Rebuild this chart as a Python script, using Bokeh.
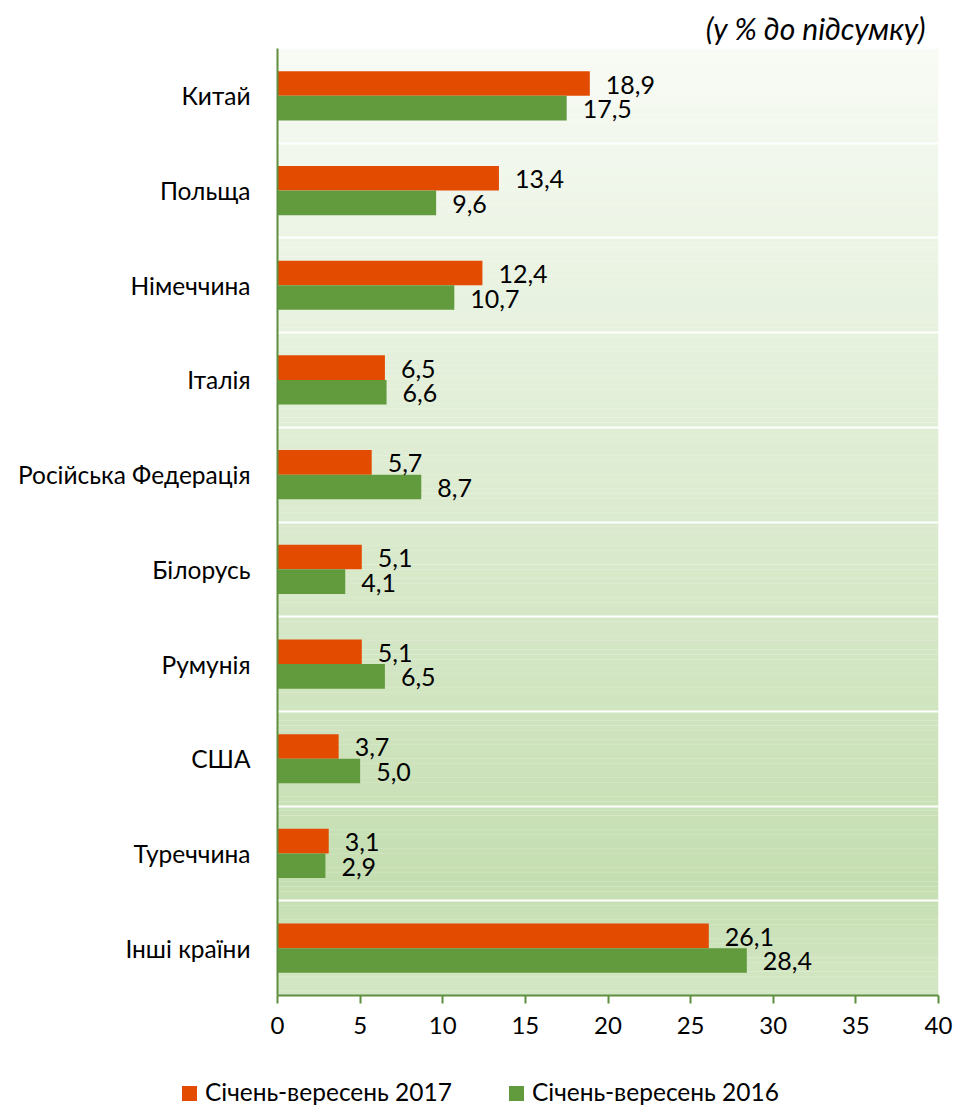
from bokeh.plotting import figure
from bokeh.models import FactorRange, Range1d, FixedTicker, ColumnDataSource, Title, Div
from bokeh.core.properties import value
from bokeh.transform import dodge
from bokeh.layouts import column
from bokeh.embed import file_html
from bokeh.resources import INLINE

categories = ["Китай", "Польща", "Німеччина", "Італія", "Російська Федерація",
              "Білорусь", "Румунія", "США", "Туреччина", "Інші країни"]
v2017 = [18.9, 13.4, 12.4, 6.5, 5.7, 5.1, 5.1, 3.7, 3.1, 26.1]
v2016 = [17.5, 9.6, 10.7, 6.6, 8.7, 4.1, 6.5, 5.0, 2.9, 28.4]
series_names = ["Січень-вересень 2017", "Січень-вересень 2016"]
x_ticks = [0, 5, 10, 15, 20, 25, 30, 35, 40]
title_text = "(у % до підсумку)"

FONT = "Lato"
ORANGE = "#e24b00"
GREEN = "#629a3e"
AXIS = "#5e8f3e"

def fmt(v):
    return f"{v:.1f}".replace(".", ",")

src = ColumnDataSource(dict(
    cat=categories, v17=v2017, v16=v2016,
    l17=[fmt(v) for v in v2017], l16=[fmt(v) for v in v2016],
))

p = figure(width=955, height=1070, output_backend="svg", toolbar_location=None,
           y_range=FactorRange(factors=list(reversed(categories)), range_padding=0),
           x_range=Range1d(0, 40),
           min_border_left=277, min_border_right=17, min_border_top=48, min_border_bottom=75)
p.outline_line_color = None
p.background_fill_color = None
p.border_fill_color = "white"

# background vertical gradient (decoration)
def lerp(c1, c2, t):
    return tuple(round(a + (b - a) * t) for a, b in zip(c1, c2))
stops = [(0.0, (248, 251, 245)), (0.88, (197, 222, 177)), (1.0, (212, 231, 197))]
n = 200
nb = len(categories)
bottoms, tops, cols = [], [], []
for i in range(n):
    f = (i + 0.5) / n  # fraction from top
    for (f0, c0), (f1, c1) in zip(stops[:-1], stops[1:]):
        if f0 <= f <= f1:
            c = lerp(c0, c1, (f - f0) / (f1 - f0))
            break
    top = nb * (1 - i / n)
    bot = nb * (1 - (i + 1) / n)
    bottoms.append(bot); tops.append(top + 0.002)
    cols.append("#%02x%02x%02x" % c)
p.quad(left=0, right=40, bottom=bottoms, top=tops, fill_color=cols, line_color=None)

# white separators between categories
p.hspan(y=list(range(1, nb)), line_color="white", line_width=2)

r17 = p.hbar(y=dodge("cat", 0.13, range=p.y_range), right="v17", height=0.26, source=src,
             fill_color=ORANGE, line_color=None)
r16 = p.hbar(y=dodge("cat", -0.13, range=p.y_range), right="v16", height=0.26, source=src,
             fill_color=GREEN, line_color=None)

p.text(x="v17", y=dodge("cat", 0.13, range=p.y_range), text="l17", source=src,
       x_offset=16, y_offset=1, text_baseline="middle", text_font=value(FONT),
       text_font_size="25px", text_color="black")
p.text(x="v16", y=dodge("cat", -0.13, range=p.y_range), text="l16", source=src,
       x_offset=16, y_offset=1, text_baseline="middle", text_font=value(FONT),
       text_font_size="25px", text_color="black")

p.xgrid.grid_line_color = None
p.ygrid.grid_line_color = None

p.xaxis.ticker = FixedTicker(ticks=x_ticks)
p.xaxis.axis_line_color = AXIS
p.xaxis.axis_line_width = 2
p.xaxis.major_tick_line_color = AXIS
p.xaxis.major_tick_line_width = 2
p.xaxis.major_tick_out = 8
p.xaxis.major_tick_in = 0
p.xaxis.minor_tick_line_color = None
p.xaxis.major_label_text_font = FONT
p.xaxis.major_label_text_font_size = "24px"
p.xaxis.major_label_text_color = "black"
p.xaxis.major_label_standoff = 13

p.yaxis.axis_line_color = AXIS
p.yaxis.axis_line_width = 2
p.yaxis.major_tick_line_color = None
p.yaxis.major_tick_out = 0
p.yaxis.major_tick_in = 0
p.yaxis.minor_tick_line_color = None
p.yaxis.major_label_text_font = FONT
p.yaxis.major_label_text_font_size = "24.5px"
p.yaxis.major_label_text_color = "black"
p.yaxis.major_label_standoff = 27

p.title = Title(text=title_text, align="right", text_font=FONT, text_font_style="italic",
                text_font_size="30px", text_color="black", offset=13, standoff=6)

# legend row (HTML, below the plot)
def legend_item(left, color, label):
    return (f'<div style="position:absolute;left:{left}px;top:16px;width:15px;height:15px;'
            f'background:{color};"></div>'
            f'<div style="position:absolute;left:{left + 23}px;top:7px;line-height:30px;'
            f'white-space:nowrap;">{label}</div>')

legend_html = ('<div style="position:relative;width:955px;height:36px;'
               f'font-family:{FONT};font-size:24.5px;color:#000;">'
               + legend_item(182, ORANGE, series_names[0])
               + legend_item(509, GREEN, series_names[1])
               + '</div>')
lg = Div(text=legend_html, width=955, height=36, margin=(0, 0, 0, 0))

layout = column(p, lg, spacing=0)
open("out.html", "w").write(file_html(layout, INLINE))
